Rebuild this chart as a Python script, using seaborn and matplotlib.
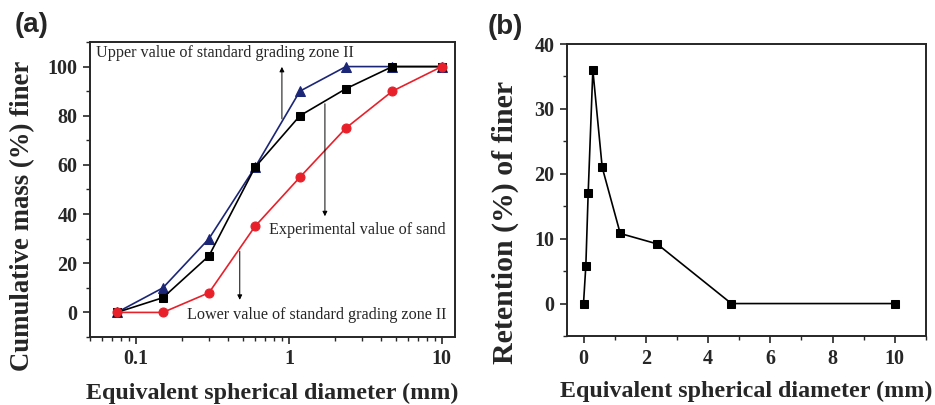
import numpy as np
import pandas as pd
import matplotlib
matplotlib.use("Agg")
import matplotlib.pyplot as plt
from matplotlib.ticker import MultipleLocator, LogLocator, FixedLocator
import seaborn as sns

# (a) 累计通过率
sieve_mm = [0.075, 0.15, 0.3, 0.6, 1.18, 2.36, 4.75, 10]
upper_zone = [0, 10, 30, 59, 90, 100, 100, 100]
experimental = [0, 6, 23, 59, 80, 91, 100, 100]
lower_zone = [0, 0, 8, 35, 55, 75, 90, 100]

# (b) 分计筛余
retention_mm = [0, 0.075, 0.15, 0.3, 0.6, 1.18, 2.36, 4.75, 10]
retention_pct = [0, 5.8, 17, 36, 21, 10.8, 9.2, 0, 0]

sns.set_style("ticks")
plt.rcParams['font.family'] = ['Liberation Serif', 'DejaVu Serif']
plt.rcParams['axes.linewidth'] = 1.4

fig = plt.figure(figsize=(9.35, 4.05), dpi=100)
W, H = 935, 405
ax1 = fig.add_axes([90 / W, (H - 337) / H, (455 - 90) / W, (337 - 42) / H])
ax2 = fig.add_axes([567 / W, (H - 336) / H, (926 - 567) / W, (336 - 44) / H])

df = pd.DataFrame({"d": sieve_mm, "upper": upper_zone,
                   "exp": experimental, "lower": lower_zone})

sns.lineplot(data=df, x="d", y="upper", ax=ax1, color="#1c2677", marker="^",
             markersize=7.5, markeredgecolor="#1c2677", lw=1.2)
sns.lineplot(data=df, x="d", y="exp", ax=ax1, color="black", marker="s",
             markersize=6, markeredgecolor="black", lw=1.2)
sns.lineplot(data=df, x="d", y="lower", ax=ax1, color="#e8202a", marker="o",
             markersize=6.5, markeredgecolor="#e8202a", lw=1.2)

ax1.set_xscale("log")
ax1.set_xlim(0.05, 12.2)
ax1.set_ylim(-10, 110)
ax1.xaxis.set_major_locator(FixedLocator([0.1, 1, 10]))
ax1.set_xticklabels(["0.1", "1", "10"])
ax1.xaxis.set_minor_locator(LogLocator(base=10, subs=np.arange(2, 10)))
ax1.yaxis.set_major_locator(MultipleLocator(20))
ax1.yaxis.set_minor_locator(MultipleLocator(10))

arrow = dict(arrowstyle="-|>", lw=0.7, color="black", mutation_scale=7)
ax1.annotate("", xy=(0.9, 101), xytext=(0.9, 77.6), arrowprops=arrow)
ax1.annotate("", xy=(1.72, 38), xytext=(1.72, 86), arrowprops=arrow)
ax1.annotate("", xy=(0.477, 4), xytext=(0.477, 26), arrowprops=arrow)
ax1.text(0.0547, 105.7, "Upper value of standard grading zone II",
         fontsize=11.6, va="center", ha="left")
ax1.text(0.74, 33.7, "Experimental value of sand",
         fontsize=11.6, va="center", ha="left")
ax1.text(0.214, -0.9, "Lower value of standard grading zone II",
         fontsize=11.6, va="center", ha="left")

sns.lineplot(x=retention_mm, y=retention_pct, ax=ax2, color="black",
             marker="s", markersize=6, markeredgecolor="black", lw=1.2)
ax2.set_xlim(-0.53, 11.0)
ax2.set_ylim(-5, 40)
ax2.xaxis.set_major_locator(MultipleLocator(2))
ax2.xaxis.set_minor_locator(MultipleLocator(1))
ax2.yaxis.set_major_locator(MultipleLocator(10))
ax2.yaxis.set_minor_locator(MultipleLocator(5))

for ax in (ax1, ax2):
    for s in ax.spines.values():
        s.set_visible(True)
        s.set_linewidth(1.4)
    ax.tick_params(which="major", direction="out", length=5, width=1.2,
                   labelsize=14.5, pad=4, top=False, right=False)
    ax.tick_params(which="minor", direction="out", length=3, width=1.0,
                   top=False, right=False)
    for lab in ax.get_xticklabels() + ax.get_yticklabels():
        lab.set_fontweight("bold")
    ax.set_xlabel("Equivalent spherical diameter (mm)", fontsize=17.3,
                  fontweight="bold")
    ax.xaxis.set_label_coords(0.5, -0.155)

ax1.set_ylabel("Cumulative mass (%) finer", fontsize=19.3, fontweight="bold")
ax1.yaxis.set_label_coords(-0.15, 0.41)
ax2.set_ylabel("Retention (%) of finer", fontsize=21.5, fontweight="bold")
ax2.yaxis.set_label_coords(-0.134, 0.39)

fig.text(15 / W, 1 - 25 / H, "(a)", fontsize=20, fontweight="bold",
         family=["Liberation Sans", "DejaVu Sans"], va="center", ha="left")
fig.text(488 / W, 1 - 27 / H, "(b)", fontsize=20, fontweight="bold",
         family=["Liberation Sans", "DejaVu Sans"], va="center", ha="left")

fig.savefig("out.png", dpi=100)
